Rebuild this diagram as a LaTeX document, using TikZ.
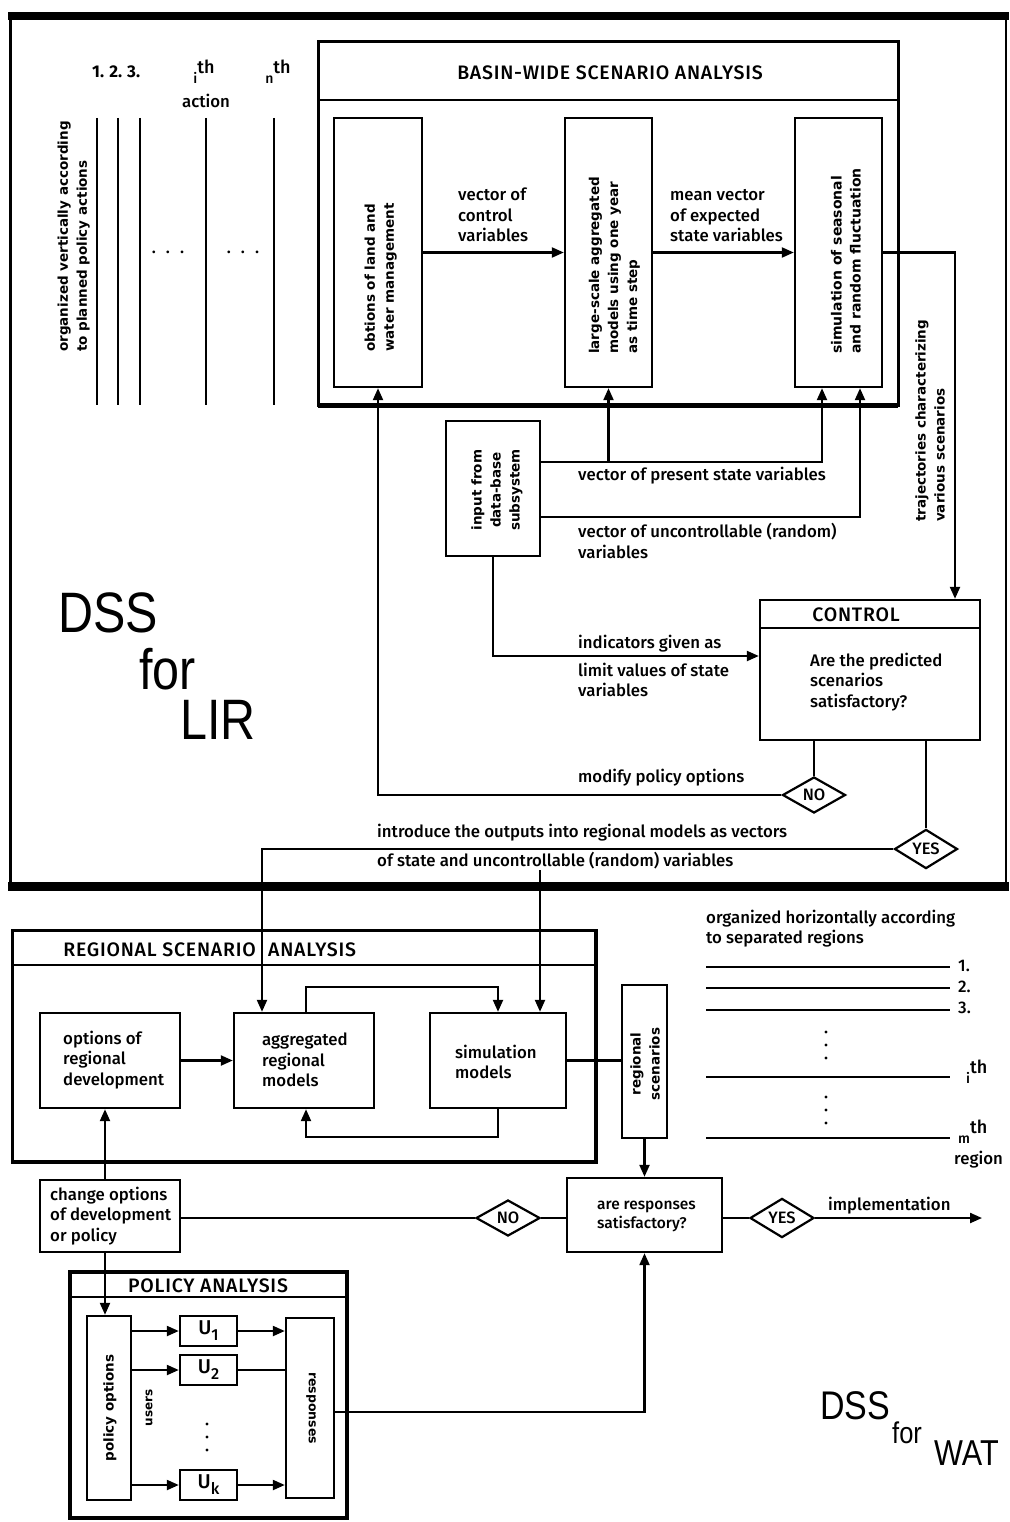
\documentclass[tikz,border=0pt]{standalone}
\usepackage{fontspec}
\setmainfont{Fira Sans}[UprightFont={* Medium},BoldFont={* Bold}]
\newfontfamily\rotfont{DejaVu Sans}
\newfontfamily\dssfont[FakeStretch=0.85]{Liberation Sans}
\usetikzlibrary{arrows.meta,shapes.geometric,calc}
\begin{document}
\begin{tikzpicture}[x=1pt,y=-1pt,
  every node/.style={font=\fontsize{16.8}{20.5}\selectfont},
  box/.style={draw,line width=2.4pt,inner sep=0pt},
  conn/.style={line width=2.2pt},
  arr/.style={conn,-{Triangle[length=12pt,width=10pt]}},
  lbl/.style={anchor=west,align=left,inner sep=0pt},
  rot/.style={rotate=90,align=left,inner sep=0pt,font=\rotfont\bfseries\fontsize{13.5}{19}\selectfont},
  dia/.style={draw,diamond,line width=2.2pt,inner sep=0pt,minimum width=63pt,minimum height=36pt,fill=white,font=\fontsize{16.5}{18}\selectfont},
  hdr/.style={inner sep=0pt,font=\fontsize{19.5}{20}\selectfont\addfontfeature{LetterSpace=4}},
  dss/.style={inner sep=0pt,anchor=south west,font=\dssfont\fontsize{57}{57}\selectfont},
  dsss/.style={inner sep=0pt,anchor=south west,font=\dssfont\fontsize{40}{40}\selectfont},
]
\useasboundingbox (0,0) rectangle (1009,1522);
% ---------- outer frame of upper part
\draw[line width=8pt] (8,16) -- (1009,16);
\draw[line width=3pt] (10,14) -- (10,888);
\draw[line width=2.4pt] (1006,20) -- (1006,884);
\draw[line width=9pt] (8,886) -- (1009,886);

% ---------- policy action columns
\node[anchor=west,inner sep=0pt,font=\bfseries\fontsize{17}{20}\selectfont] (c123) at (92,72) {1.\hspace{0.3em}2.\hspace{0.3em}3.};
\node[inner sep=0pt,font=\fontsize{18}{20}\selectfont] (cith) at (204,72) {\raisebox{-0.35em}{\fontsize{14}{14}\selectfont i}\raisebox{0.2em}{th}};
\node[inner sep=0pt,font=\fontsize{18}{20}\selectfont] (cnth) at (278,72) {\raisebox{-0.35em}{\fontsize{14}{14}\selectfont n}\raisebox{0.2em}{th}};
\node[inner sep=0pt] (cact) at (206,101) {action};
\foreach \x in {97,118,140,206,274} \draw[line width=2.6pt] (\x,118) -- (\x,405);
\node[inner sep=0pt] (dots1) at (168,252) {.\hspace{0.6em}.\hspace{0.6em}.};
\node[inner sep=0pt] (dots2) at (243,252) {.\hspace{0.6em}.\hspace{0.6em}.};
\node[rot,anchor=south west] (orgv) at (90,352) {organized vertically according\\to planned policy actions};

% ---------- basin-wide box
\draw[line width=3pt] (318,42) rectangle (898,405);
\draw[line width=5pt] (318,405) -- (898,405);
\draw[line width=2.4pt] (318,100) -- (898,100);
\node[hdr] (bwt) at (610,73) {BASIN-WIDE SCENARIO ANALYSIS};

\node[box,minimum width=88pt,minimum height=269pt] (obt) at (378,252.5) {};
\node[box,minimum width=87pt,minimum height=269pt] (lsm) at (608.5,252.5) {};
\node[box,minimum width=87pt,minimum height=269pt] (sim) at (838.5,252.5) {};
\node[rot,anchor=south west] (obtt) at (397,352) {obtions of land and\\water management};
\node[rot,anchor=south west] (lsmt) at (640,354) {large-scale aggregated\\models using one year\\as time step};
\node[rot,anchor=south west,font=\rotfont\bfseries\fontsize{14}{19}\selectfont] (simt) at (861,354) {simulation of seasonal\\and random fluctuation};

\draw[arr] (obt.east) -- (lsm.west);
\draw[arr] (lsm.east) -- (sim.west);
\node[lbl] (l1) at (458,215) {vector of\\control\\variables};
\node[lbl] (l2) at (670,216) {mean vector\\of expected\\state variables};

% ---------- data base input
\node[box,minimum width=94pt,minimum height=135pt] (db) at (493,488.5) {};
\node[rot,anchor=center,align=center] (dbt) at (497,490) {input from\\data-base\\subsystem};
\draw[arr] (db.east |- 0,462) -| (sim.south -| 822,0);
\draw[arr] (lsm.south |- 0,462) -- (lsm.south);
\draw[arr] (db.east |- 0,517) -| (sim.south -| 860,0);
\node[lbl] (l3) at (578,476) {vector of present state variables};
\node[lbl] (l4) at (578,541) {vector of uncontrollable (random)\\variables};

% ---------- control
\node[box,minimum width=220pt,minimum height=140pt] (ctrl) at (870,670) {};
\draw[line width=2.4pt] (760,628) -- (980,628);
\node[hdr] (ctrlt) at (856,615) {CONTROL};
\node[lbl] (ctrlq) at (810,682) {Are the predicted\\scenarios\\satisfactory?};
\draw[arr] (sim.east) -| (ctrl.north -| 955,0);
\node[rot,anchor=south west] (traj) at (945,522) {trajectories characterizing\\various scenarios};
\draw[arr] (db.south) |- (ctrl.west |- 0,656);
\node[lbl] (l5) at (578,644) {indicators given as};
\node[lbl] (l6) at (578,680) {limit values of state\\variables};

\node[dia] (no1) at (814,795) {NO};
\node[dia] (yes1) at (926,849) {YES};
\draw[conn] (ctrl.south -| no1) -- (no1.north);
\draw[conn] (ctrl.south -| yes1) -- (yes1.north);
\draw[arr] (no1.west) -| (obt.south);
\node[lbl] (l7) at (578,778) {modify policy options};
\node[lbl] (l8) at (377,833) {introduce the outputs into regional models as vectors};
\node[lbl] (l9) at (377,861) {of state and uncontrollable (random) variables};

% ---------- regional scenario analysis
\draw[line width=3pt] (12,930) rectangle (596,1162);
\draw[line width=4pt] (12,1162) -- (596,1162) -- (596,930);
\draw[line width=2.4pt] (12,965) -- (596,965);
\node[hdr,anchor=east] (rsa1) at (256,950) {REGIONAL SCENARIO};
\node[hdr,anchor=west] (rsa2) at (268,950) {ANALYSIS};

\node[box,minimum width=140pt,minimum height=95pt] (opt) at (110,1060.5) {};
\node[box,minimum width=140pt,minimum height=95pt] (agg) at (304,1060.5) {};
\node[box,minimum width=136pt,minimum height=95pt] (simm) at (498,1060.5) {};
\node[lbl] (optt) at (63,1060) {options of\\regional\\development};
\node[lbl] (aggt) at (262,1060) {aggregated\\regional\\models};
\node[lbl] (simmt) at (455,1062) {simulation\\models};
\draw[arr] (opt.east) -- (agg.west);
\draw[arr] (agg.north -| 306,0) -- (306,987) -| (simm.north);
\draw[arr] (simm.south) -- (simm.south |- 0,1137) -| (agg.south -| 306,0);
\draw[arr] (yes1.west) -| (agg.north -| 262,0);
\coordinate (tick) at (540,870);
\draw[arr] (tick) -- (simm.north -| tick);

% ---------- regional scenarios
\node[box,minimum width=45pt,minimum height=153pt] (rs) at (644.5,1061.5) {};
\node[rot,anchor=center,align=center] (rst) at (645,1064) {regional\\scenarios};
\draw[conn] (simm.east) -- (rs.west |- simm.east);

% ---------- region lines
\node[lbl,anchor=north west,font=\fontsize{16.8}{20}\selectfont] (orgh) at (706,910) {organized horizontally according\\to separated regions};
\foreach \y/\n in {967/r1,988/r2,1010/r3,1077/ri,1138/rm} {
  \draw[line width=2.6pt] (706,\y) -- (950,\y);
  \coordinate (\n) at (950,\y);
}
\node[anchor=west,inner sep=0pt] (n1) at (958,966) {1.};
\node[anchor=west,inner sep=0pt] (n2) at (958,987) {2.};
\node[anchor=west,inner sep=0pt] (n3) at (958,1008) {3.};
\node[anchor=west,inner sep=0pt,font=\fontsize{18}{20}\selectfont] (ni) at (966,1072) {\raisebox{-0.35em}{\fontsize{14}{14}\selectfont i}\raisebox{0.2em}{th}};
\node[anchor=west,inner sep=0pt,font=\fontsize{18}{20}\selectfont] (nm) at (958,1132) {\raisebox{-0.35em}{\fontsize{14}{14}\selectfont m}\raisebox{0.2em}{th}};
\node[anchor=west,inner sep=0pt] (nreg) at (954,1160) {region};
\foreach \y in {1032,1045,1058,1097,1110,1123} \fill (826,\y) circle (1.6pt);

% ---------- decision row
\node[box,minimum width=140pt,minimum height=72pt] (chg) at (110,1216) {};
\node[lbl] (chgt) at (50,1216) {change options\\of development\\or policy};
\node[box,minimum width=155pt,minimum height=74pt] (resp) at (644.5,1215) {};
\node[lbl,font=\fontsize{15.5}{19}\selectfont] (respt) at (597,1216) {are responses\\satisfactory?};
\node[dia,minimum width=64pt] (no2) at (508,1218) {NO};
\node[dia,minimum width=64pt] (yes2) at (782,1218) {YES};
\coordinate (impl) at (982,1218);
\draw[conn] (chg.east |- no2) -- (no2.west);
\draw[conn] (no2.east) -- (resp.west |- no2);
\draw[conn] (resp.east |- yes2) -- (yes2.west);
\draw[arr] (yes2.east) -- (impl);
\node[lbl] (implt) at (828,1206) {implementation};
\draw[arr] (rs.south) -- (resp.north);
\draw[arr] (chg.north -| 105,0) -- (opt.south -| 105,0);

% ---------- policy analysis
\draw[line width=3.5pt] (70,1272) rectangle (347,1518);
\draw[line width=2.4pt] (70,1297) -- (347,1297);
\node[hdr] (pat) at (208,1286) {POLICY ANALYSIS};
\node[box,minimum width=44pt,minimum height=184pt] (po) at (109,1408) {};
\node[rot,anchor=center] (pot) at (110,1408) {policy options};
\node[rot,anchor=center,font=\rotfont\bfseries\fontsize{12}{18}\selectfont] (users) at (149,1408) {users};
\node[box,minimum width=57pt,minimum height=30pt,font=\fontsize{20}{20}\selectfont] (u1) at (208.5,1331) {U\raisebox{-0.3em}{\fontsize{16}{16}\selectfont 1}};
\node[box,minimum width=57pt,minimum height=30pt,font=\fontsize{20}{20}\selectfont] (u2) at (208.5,1370) {U\raisebox{-0.3em}{\fontsize{16}{16}\selectfont 2}};
\node[box,minimum width=57pt,minimum height=30pt,font=\fontsize{20}{20}\selectfont] (uk) at (208.5,1485) {U\raisebox{-0.3em}{\fontsize{16}{16}\selectfont k}};
\foreach \y in {1424,1437,1450} \fill (207,\y) circle (1.6pt);
\node[box,minimum width=48pt,minimum height=180pt] (rsp) at (310,1408) {};
\node[rot,rotate=180,anchor=center,font=\rotfont\bfseries\fontsize{12.5}{18}\selectfont] (rspt) at (311,1408) {responses};
\draw[arr] (chg.south -| 105,0) -- (po.north -| 105,0);
\draw[arr] (po.east |- u1) -- (u1.west);
\draw[arr] (po.east |- u2) -- (u2.west);
\draw[arr] (po.east |- uk) -- (uk.west);
\draw[arr] (u1.east) -- (rsp.west |- u1);
\draw[conn] (u2.east) -- (rsp.west |- u2);
\draw[arr] (uk.east) -- (rsp.west |- uk);
\draw[arr] (rsp.east |- 0,1412) -| (resp.south);

% ---------- DSS labels
\node[dss] (dss1) at (58,633) {DSS};
\node[dss] (for1) at (139,690) {for};
\node[dss] (lir1) at (180,740) {LIR};
\node[dsss] (dss2) at (820,1420) {DSS};
\node[dsss,font=\dssfont\fontsize{30}{30}\selectfont] (for2) at (892,1444) {for};
\node[dsss,font=\dssfont\fontsize{36}{36}\selectfont] (wat2) at (934,1466) {WAT};
\end{tikzpicture}
\end{document}
